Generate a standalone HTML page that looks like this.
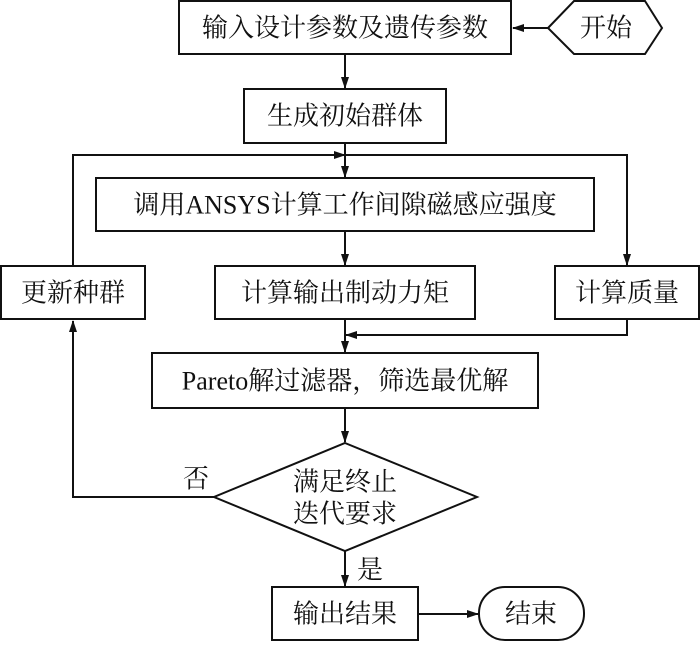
<!DOCTYPE html>
<html><head><meta charset="utf-8"><style>
html,body{margin:0;padding:0;background:#fff;}
svg text{font-family:"Liberation Serif","Noto Serif CJK SC",serif;font-size:26px;fill:#111;text-anchor:middle;dominant-baseline:central;}
</style></head><body>
<svg width="700" height="641" viewBox="0 0 700 641" xmlns="http://www.w3.org/2000/svg">
<defs><marker id="a" markerWidth="12" markerHeight="8" refX="11" refY="4" orient="auto" markerUnits="userSpaceOnUse"><path d="M0,0 L12,4 L0,8 z" fill="#111"/></marker></defs>
<g fill="none" stroke="#111" stroke-width="2">
<rect x="179" y="1" width="332" height="53"/>
<polygon points="548,28 574,1 645,1 662,28 645,54 574,54"/>
<rect x="244" y="89" width="202" height="54"/>
<rect x="96" y="178" width="498" height="53"/>
<rect x="1" y="266" width="144" height="53"/>
<rect x="215" y="266" width="260" height="53"/>
<rect x="555" y="266" width="144" height="53"/>
<rect x="152" y="353" width="386" height="55"/>
<polygon points="345,443 477,497 345,551 214,497"/>
<rect x="272" y="587" width="146" height="53"/>
<rect x="479" y="587" width="105" height="53" rx="26" ry="26"/>
<line x1="548" y1="28" x2="513" y2="28" marker-end="url(#a)"/>
<line x1="345" y1="54" x2="345" y2="88" marker-end="url(#a)"/>
<line x1="345" y1="143" x2="345" y2="177" marker-end="url(#a)"/>
<polyline points="345,155 627,155 627,265" marker-end="url(#a)"/>
<polyline points="73,266 73,155 345,155" marker-end="url(#a)"/>
<line x1="345" y1="231" x2="345" y2="265" marker-end="url(#a)"/>
<line x1="345" y1="319" x2="345" y2="352" marker-end="url(#a)"/>
<polyline points="627,319 627,335 346,335" marker-end="url(#a)"/>
<line x1="345" y1="408" x2="345" y2="442" marker-end="url(#a)"/>
<polyline points="214,497 73,497 73,321" marker-end="url(#a)"/>
<line x1="345" y1="551" x2="345" y2="586" marker-end="url(#a)"/>
<line x1="418" y1="614" x2="478" y2="614" marker-end="url(#a)"/>
</g>
<text x="345" y="28">输入设计参数及遗传参数</text>
<text x="606" y="28">开始</text>
<text x="345" y="116">生成初始群体</text>
<text x="345" y="205">调用ANSYS计算工作间隙磁感应强度</text>
<text x="73" y="293">更新种群</text>
<text x="345" y="293">计算输出制动力矩</text>
<text x="627" y="293">计算质量</text>
<text x="345" y="381">Pareto解过滤器，筛选最优解</text>
<text x="345" y="482">满足终止</text>
<text x="345" y="514">迭代要求</text>
<text x="196" y="479">否</text>
<text x="370" y="570">是</text>
<text x="345" y="614">输出结果</text>
<text x="531" y="614">结束</text>
</svg>
</body></html>
